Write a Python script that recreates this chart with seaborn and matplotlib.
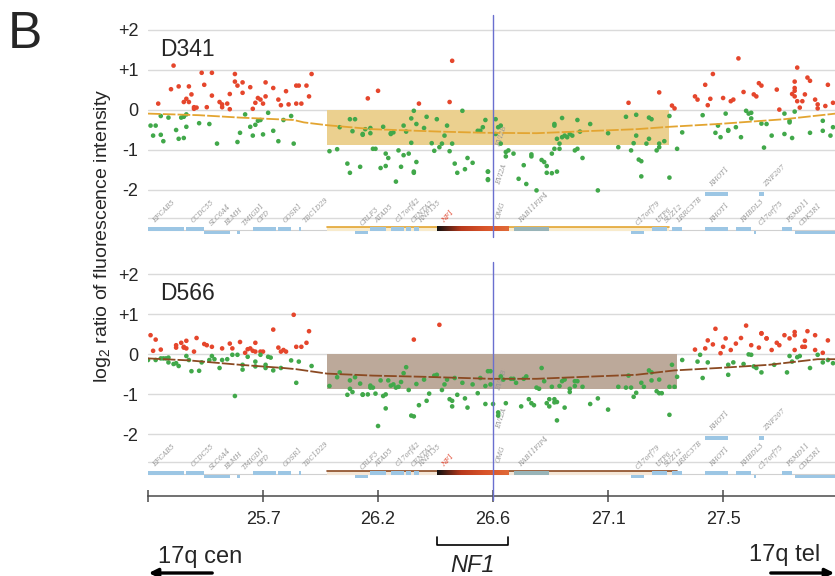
import numpy as np
import pandas as pd
import matplotlib
matplotlib.use("Agg")
import matplotlib.pyplot as plt
import matplotlib.transforms as mtransforms
from matplotlib.patches import Rectangle
from matplotlib.colors import LinearSegmentedColormap
import seaborn as sns

# probe position (Mb on 17q) and log2 ratio
D341_POINTS = [
    (25.35, 1.11), (25.29, 0.16), (25.34, 0.52), (25.37, 0.59), (25.41, 0.59), (25.42, 0.39),
    (25.40, 0.28), (25.39, 0.20), (25.41, 0.20), (25.43, 0.07), (25.43, 0.03), (25.44, 0.06),
    (25.46, 0.93), (25.50, 0.93), (25.47, 0.63), (25.48, 0.07), (25.50, 0.36), (25.53, 0.20),
    (25.54, 0.07), (25.54, 0.14), (25.56, 0.16), (25.57, 0.02), (25.57, 0.40), (25.59, 0.71),
    (25.59, 0.90), (25.60, 0.61), (25.62, 0.69), (25.62, 0.43), (25.65, 0.57), (25.66, 0.03),
    (25.67, 0.18), (25.68, 0.30), (25.69, 0.26), (25.70, 0.16), (25.71, 0.69), (25.71, 0.34),
    (25.74, 0.55), (25.76, 0.26), (25.77, 0.12), (25.79, 0.47), (25.80, 0.14), (25.83, 0.61),
    (25.84, 0.61), (25.83, 0.16), (25.85, 0.16), (25.87, 0.61), (25.88, 0.34), (25.89, 0.90),
    (26.11, 0.29), (26.15, 0.48), (26.31, 0.16), (26.44, 1.23), (26.43, 0.20),
    (25.26, -0.39), (25.28, -0.39), (25.27, -0.64), (25.30, -0.62), (25.31, -0.78), (25.30, -0.15),
    (25.33, -0.19), (25.36, -0.50), (25.37, -0.72), (25.38, -0.19), (25.39, -0.17), (25.39, -0.70),
    (25.40, -0.42), (25.40, -0.11), (25.45, -0.33), (25.49, -0.35), (25.52, -0.84), (25.60, -0.80),
    (25.61, -0.57), (25.63, -0.11), (25.65, -0.42), (25.66, -0.64), (25.67, -0.37), (25.68, -0.27),
    (25.69, -0.25), (25.70, -0.61), (25.72, -0.07), (25.74, -0.52), (25.76, -0.78), (25.78, -0.25),
    (25.81, -0.15), (25.82, -0.84), (25.96, -1.03), (25.99, -0.98), (26.00, -0.43), (26.03, -1.34),
    (26.04, -0.23), (26.04, -1.57), (26.06, -0.23), (26.05, -0.53), (26.08, -1.42), (26.09, -0.62),
    (26.09, -0.60), (26.10, -0.48), (26.12, -0.58), (26.12, -0.45), (26.13, -0.97), (26.14, -0.97),
    (26.16, -1.45), (26.17, -0.42), (26.18, -1.40), (26.18, -1.09), (26.19, -1.20), (26.20, -0.58),
    (26.20, -0.60), (26.21, -0.56), (26.22, -1.79), (26.23, -1.01), (26.24, -1.42), (26.25, -0.39),
    (26.25, -1.13), (26.26, -0.54), (26.27, -1.09), (26.28, -0.21), (26.28, -0.82), (26.29, -1.54),
    (26.29, -1.57), (26.30, -1.30), (26.29, -0.02), (26.30, -0.35), (26.34, -0.17), (26.33, -0.45),
    (26.36, -0.83), (26.37, -1.02), (26.38, -0.23), (26.39, -0.93), (26.40, -0.84), (26.41, -0.64),
    (26.42, -0.39), (26.43, -1.03), (26.44, -0.84), (26.45, -1.34), (26.46, -1.57), (26.48, -0.02),
    (26.49, -1.48), (26.50, -1.20), (26.52, -1.32), (26.54, -0.52), (26.55, -0.52), (26.57, -0.25),
    (26.56, -0.43), (26.58, -1.54), (26.58, -1.73),
    (26.61, -0.23), (26.61, -0.60), (26.62, -0.43), (26.63, -0.39), (26.63, -0.84), (26.65, -1.05),
    (26.66, -1.01), (26.68, -1.09), (26.65, -1.16), (26.58, -1.54), (26.58, -1.75), (26.72, -1.38),
    (26.70, -1.72), (26.73, -1.85), (26.75, -1.16), (26.75, -1.11), (26.77, -2.01), (26.79, -1.25),
    (26.80, -1.30), (26.81, -1.40), (26.81, -1.57), (26.83, -1.58), (26.85, -1.54), (26.83, -1.09),
    (26.84, -0.97), (26.86, -0.97), (26.86, -0.84), (26.85, -0.72), (26.87, -0.68), (26.88, -0.64),
    (26.89, -0.68), (26.90, -0.60), (26.91, -0.64), (26.84, -0.39), (26.84, -0.35), (26.87, -0.20),
    (26.92, -1.01), (26.93, -0.97), (26.95, -1.20), (26.94, -0.54), (26.93, -0.25), (26.98, -0.35),
    (27.01, -2.01), (27.05, -0.58), (27.09, -0.93), (27.12, -0.17), (27.14, -1.01), (27.15, -0.83),
    (27.16, -0.12), (27.16, -0.64), (27.17, -1.24), (27.18, -1.28), (27.18, -1.66), (27.20, -0.84),
    (27.21, -0.72), (27.21, -0.19), (27.22, -0.23), (27.24, -1.01), (27.25, -0.93), (27.25, -0.84),
    (27.27, -0.78), (27.29, -1.69), (27.29, -0.15), (27.32, -0.97), (27.34, -0.56), (27.42, -0.13),
    (27.47, -0.57), (27.48, -0.39), (27.49, -0.68), (27.51, -0.09), (27.52, -0.52), (27.52, -0.50),
    (27.55, -0.43), (27.57, -0.68), (27.59, -0.02), (27.60, -0.09), (27.61, -0.21), (27.61, -0.07),
    (27.65, -0.34), (27.66, -0.94), (27.67, -0.35), (27.69, -0.64), (27.74, -0.60), (27.74, -0.09),
    (27.76, -0.27), (27.76, -0.31), (27.77, -0.70), (27.78, -0.04), (27.84, -0.57), (27.89, -0.27),
    (27.89, -0.52), (27.92, -0.64), (27.93, -0.43),
    (27.13, 0.18), (27.25, 0.44), (27.30, 0.11), (27.31, 0.04), (27.39, 0.34), (27.40, 0.26),
    (27.43, 0.63), (27.44, 0.12), (27.45, 0.28), (27.46, 0.90), (27.50, 0.30), (27.53, 0.22),
    (27.54, 0.26), (27.56, 1.29), (27.58, 0.45), (27.62, 0.39), (27.63, 0.34), (27.64, 0.67),
    (27.65, 0.61), (27.71, 0.51), (27.72, 0.01), (27.77, 0.40), (27.78, 0.55), (27.78, 0.71),
    (27.78, 0.48), (27.78, 0.34), (27.79, 1.06), (27.79, 0.22), (27.81, 0.22), (27.80, 0.06),
    (27.82, 0.39), (27.83, 0.81), (27.84, 0.73), (27.86, 0.26), (27.87, 0.04), (27.87, 0.14),
    (27.90, 0.10), (27.91, 0.63), (27.93, 0.18),
]

D566_POINTS = [
    (25.26, 0.47), (25.28, 0.36), (25.27, 0.08), (25.30, 0.11), (25.36, 0.16), (25.36, 0.22),
    (25.38, 0.28), (25.39, 0.16), (25.39, 0.18), (25.40, 0.33), (25.40, 0.14), (25.43, 0.06),
    (25.44, 0.40), (25.47, 0.25), (25.48, 0.22), (25.50, 0.18), (25.54, 0.14), (25.57, 0.26),
    (25.58, 0.14), (25.61, 0.30), (25.63, 0.03), (25.64, 0.12), (25.65, 0.14), (25.66, 0.08),
    (25.67, 0.06), (25.67, 0.28), (25.69, 0.06), (25.70, 0.06), (25.74, 0.61), (25.76, 0.16),
    (25.77, 0.06), (25.78, 0.10), (25.79, 0.06), (25.82, 0.98), (25.83, 0.18), (25.85, 0.18),
    (25.87, 0.28), (25.88, 0.57), (26.29, 0.36), (26.39, 0.73),
    (25.25, -0.15), (25.28, -0.15), (25.30, -0.11), (25.31, -0.11), (25.32, -0.11), (25.33, -0.09),
    (25.33, -0.21), (25.35, -0.25), (25.36, -0.23), (25.37, -0.30), (25.40, -0.05), (25.41, -0.15),
    (25.42, -0.43), (25.45, -0.42), (25.46, -0.21), (25.49, -0.15), (25.50, -0.05), (25.51, -0.13),
    (25.53, -0.35), (25.54, -0.15), (25.56, -0.13), (25.58, -0.02), (25.59, -1.05), (25.60, -0.02),
    (25.62, -0.39), (25.62, -0.27), (25.64, -0.07), (25.67, -0.19), (25.67, -0.31), (25.69, -0.02),
    (25.71, -0.35), (25.71, -0.27), (25.72, -0.07), (25.73, -0.09), (25.74, -0.41), (25.77, -0.35),
    (25.81, -0.16), (25.83, -0.72), (25.84, -0.19), (25.89, -0.30), (25.96, -0.80), (25.99, -0.58),
    (26.00, -0.46), (26.03, -1.02), (26.04, -0.87), (26.04, -0.66), (26.06, -0.58), (26.05, -0.95),
    (26.08, -0.74), (26.09, -1.02), (26.09, -1.01), (26.11, -1.01), (26.12, -0.79), (26.12, -0.84),
    (26.13, -0.84), (26.14, -0.99), (26.16, -0.66), (26.17, -1.05), (26.18, -1.36), (26.18, -1.01),
    (26.19, -0.66), (26.20, -0.79), (26.21, -0.76), (26.22, -0.84), (26.23, -0.82), (26.24, -0.70),
    (26.25, -0.48), (26.26, -0.33), (26.27, -0.90), (26.28, -1.54), (26.29, -1.56), (26.30, -0.75),
    (26.31, -1.28), (26.33, -0.64), (26.34, -1.17), (26.35, -0.99), (26.37, -0.54), (26.38, -0.52),
    (26.40, -0.90), (26.41, -0.76), (26.42, -0.64), (26.43, -1.13), (26.44, -1.17), (26.44, -1.31),
    (26.45, -0.60), (26.46, -1.02), (26.48, -0.72), (26.49, -1.11), (26.50, -1.34), (26.52, -0.76),
    (26.54, -0.98), (26.55, -0.60), (26.57, -1.25), (26.57, -0.80), (26.58, -0.43), (26.15, -1.80),
    (26.59, -0.43), (26.59, -0.76), (26.60, -1.25), (26.62, -1.46), (26.62, -1.54), (26.63, -0.56),
    (26.64, -0.64), (26.65, -1.23), (26.67, -0.62), (26.68, -0.62), (26.69, -0.72), (26.71, -1.31),
    (26.72, -0.62), (26.73, -0.56), (26.74, -1.13), (26.75, -1.23), (26.76, -1.28), (26.77, -0.84),
    (26.78, -0.87), (26.79, -0.35), (26.80, -0.68), (26.81, -1.23), (26.82, -1.13), (26.82, -1.31),
    (26.83, -0.82), (26.84, -1.13), (26.84, -1.21), (26.85, -1.20), (26.85, -1.66), (26.86, -0.80),
    (26.87, -0.68), (26.88, -1.34), (26.88, -0.64), (26.90, -0.87), (26.90, -0.95), (26.92, -0.68),
    (26.92, -0.80), (26.93, -0.68), (26.95, -0.82), (26.98, -1.25), (27.01, -1.11), (27.05, -1.39),
    (27.09, -0.82), (27.12, -0.84), (27.13, -0.54), (27.14, -0.84), (27.15, -1.07), (27.16, -0.97),
    (27.18, -0.72), (27.19, -0.82), (27.21, -0.41), (27.22, -0.46), (27.22, -0.66), (27.24, -0.93),
    (27.25, -0.98), (27.26, -0.98), (27.25, -0.64), (27.29, -1.52), (27.29, -0.82), (27.30, -0.27),
    (27.31, -0.82), (27.32, -0.57), (27.34, -0.15), (27.40, -0.19), (27.41, -0.02), (27.42, -0.60),
    (27.44, -0.21), (27.52, -0.52), (27.52, -0.27), (27.54, -0.21), (27.58, -0.25), (27.60, -0.01),
    (27.61, -0.02), (27.62, -0.31), (27.63, -0.35), (27.65, -0.46), (27.70, -0.27), (27.75, -0.46),
    (27.76, -0.05), (27.77, -0.19), (27.79, -0.08), (27.80, -0.05), (27.84, -0.35), (27.87, -0.02),
    (27.89, -0.21), (27.91, -0.15), (27.93, -0.23),
    (27.39, 0.11), (27.43, 0.14), (27.44, 0.34), (27.47, 0.63), (27.46, 0.24), (27.49, 0.02),
    (27.50, 0.18), (27.51, 0.39), (27.53, 0.10), (27.55, 0.26), (27.57, 0.40), (27.59, 0.71),
    (27.61, 0.22), (27.64, 0.16), (27.65, 0.51), (27.65, 0.52), (27.67, 0.39), (27.67, 0.39),
    (27.69, 0.10), (27.71, 0.28), (27.72, 0.22), (27.74, 0.47), (27.76, 0.39), (27.78, 0.55),
    (27.78, 0.47), (27.78, 0.10), (27.81, 0.18), (27.82, 0.33), (27.82, 0.18), (27.83, 0.57),
    (27.86, 0.47), (27.86, 0.10), (27.89, 0.03), (27.91, 0.34),
]

# moving average lines
D341_TREND = [(25.25, -0.09), (25.45, -0.13), (25.61, -0.19), (25.82, -0.25), (25.86, -0.31),
              (25.95, -0.38), (26.13, -0.48), (26.39, -0.54), (26.57, -0.57), (26.77, -0.58),
              (26.96, -0.53), (27.16, -0.48), (27.29, -0.42), (27.48, -0.35), (27.74, -0.23),
              (27.94, -0.09)]
D566_TREND = [(25.25, -0.11), (25.41, -0.16), (25.61, -0.27), (25.78, -0.35), (25.83, -0.38),
              (25.95, -0.49), (26.13, -0.54), (26.33, -0.57), (26.59, -0.62), (26.77, -0.62),
              (26.96, -0.57), (27.16, -0.52), (27.31, -0.41), (27.48, -0.35), (27.68, -0.27),
              (27.87, -0.13), (27.94, -0.13)]

# deleted segment (start, end, depth)
D341_DELETION = (25.95, 27.29, -0.87)
D566_DELETION = (25.95, 27.32, -0.87)

# gene track: name, start, end, row (0 main, -1 offset, 1 upper)
GENE_NAMES = ["EFCAB5", "CCDC55", "SLC6A4", "BLMH", "TMIGD1", "CPD", "GOSR1", "TBC1D29",
              "CRLF3", "ATAD5", "C17orf42", "CENTA2", "RNF135", "NF1", "RAB11FIP4",
              "C17orf79", "UTP6", "SUZ12", "LRRC37B", "RHOT1", "RHOT1", "RHBDL3",
              "C17orf75", "ZNF207", "PSMD11", "CDK5R1"]
GENE_START = [25.25, 25.40, 25.47, 25.53, 25.60, 25.66, 25.76, 25.84,
              26.06, 26.12, 26.20, 26.26, 26.29, 26.38, 26.68,
              27.14, 27.22, 27.25, 27.30, 27.43, 27.43, 27.55,
              27.62, 27.64, 27.73, 27.78]
GENE_END = [25.39, 25.47, 25.53, 25.57, 25.61, 25.75, 25.81, 25.85,
            26.11, 26.18, 26.25, 26.28, 26.31, 26.66, 26.82,
            27.19, 27.25, 27.28, 27.34, 27.52, 27.52, 27.61,
            27.63, 27.66, 27.77, 27.94]
GENE_ROW = [0, 0, -1, -1, -1, 0, 0, 0,
            -1, 0, 0, 0, 0, 0, 0,
            -1, 0, 0, 0, 0, 1, 0,
            -1, 1, 0, -1]
NF1_INNER = ["EVI2B", "EVI2A", "OMG"]
NF1_INNER_Y = [-0.95, -1.9, -2.75]

XTICKS = [25.25, 25.7, 26.15, 26.6, 27.05, 27.5]
XTICKLABELS = ["", "25.7", "26.2", "26.6", "27.1", "27.5"]
YTICKS = [2, 1, 0, -1, -2]
YTICKLABELS = ["+2", "+1", "0", "-1", "-2"]

RED = "#e5462c"
GREEN = "#41a84a"
BAR_BLUE = "#9cc6e4"
NF1_POS = 26.6

sns.set_style("white")
plt.rcParams["font.family"] = ["Liberation Sans", "DejaVu Sans"]
plt.rcParams["mathtext.fontset"] = "custom"
plt.rcParams["mathtext.rm"] = "Liberation Sans"
plt.rcParams["mathtext.default"] = "regular"

W, H = 835, 576
fig = plt.figure(figsize=(W / 100, H / 100), dpi=100)
XMIN, XMAX = 25.25, 25.25 + 687 / 255.6

ax1 = fig.add_axes([148 / W, 1 - 242 / H, 687 / W, 230 / H])
ax2 = fig.add_axes([148 / W, 1 - 496 / H, 687 / W, 238 / H])

nf1_cmap = LinearSegmentedColormap.from_list("nf1", ["#111111", "#b8391c", "#d9542a", "#e06a38"])


def draw_panel(ax, points, trend, deletion, box_col, trend_col, band_col, name, ylim):
    for y in [2, 1, 0, -1, -2, -2.7]:
        ax.axhline(y, color="#dadada", lw=1, zorder=0)
    start, end, depth = deletion
    ax.add_patch(Rectangle((start, depth), end - start, -depth, color=box_col, lw=0, zorder=1))

    df = pd.DataFrame(points, columns=["pos", "ratio"])
    df["call"] = np.where(df["ratio"] > 0, "gain", "loss")
    sns.scatterplot(data=df, x="pos", y="ratio", hue="call", palette={"gain": RED, "loss": GREEN},
                    s=11, edgecolor="none", legend=False, ax=ax, zorder=3)

    tr = pd.DataFrame(trend, columns=["pos", "ratio"])
    sns.lineplot(data=tr, x="pos", y="ratio", color=trend_col, lw=1.3, ax=ax, zorder=4,
                 linestyle=(0, (7, 1.2)))

    # gene track
    ax.plot([XMIN, XMAX], [-3.0, -3.0], color="#d0d0d0", lw=0.8, zorder=1)
    ax.add_patch(Rectangle((start, -3.03), end - start, 0.1, color=band_col, lw=0, zorder=1))
    ax.plot([start, end], [-2.93, -2.93], color=trend_col, lw=1.2, zorder=2)
    for g, s, e, row in zip(GENE_NAMES, GENE_START, GENE_END, GENE_ROW):
        yc = {0: -2.98, -1: -3.06, 1: -2.1}[row]
        if g == "NF1":
            ax.imshow(np.linspace(0, 1, 200)[None, :], cmap=nf1_cmap, aspect="auto",
                      extent=[s, e, yc - 0.055, yc + 0.055], zorder=3)
            col = "#e0422a"
        else:
            fc = "#98b4b8" if g == "RAB11FIP4" else BAR_BLUE
            ax.add_patch(Rectangle((s, yc - 0.045), max(e - s, 0.006), 0.09, color=fc, lw=0, zorder=3))
            col = "#959595"
        ax.text(s + 0.012, yc + 0.13, g, rotation=45, fontsize=4.8, color=col, style="italic",
                family="DejaVu Serif", ha="left", va="bottom", zorder=2)
    for g, y in zip(NF1_INNER, NF1_INNER_Y):
        ax.text(NF1_POS + 0.004, y, g, rotation=72, fontsize=4.8, color="#959595", style="italic",
                family="DejaVu Serif", ha="left", va="bottom", zorder=2)

    ax.text(25.297, 1.52, name, fontsize=16.5, va="center", ha="left")
    ax.set_xlim(XMIN, XMAX)
    ax.set_ylim(*ylim)
    ax.set_yticks(YTICKS)
    ax.set_yticklabels(YTICKLABELS)
    ax.tick_params(axis="y", length=0, pad=7, labelsize=13)
    ax.set_xlabel("")
    ax.set_ylabel("")
    sns.despine(ax=ax, left=True, bottom=True)


draw_panel(ax1, D341_POINTS, D341_TREND, D341_DELETION, "#ebd08f", "#e3a531", "#f8ebcc",
           "D341", (-3.3, 2.45))
draw_panel(ax2, D566_POINTS, D566_TREND, D566_DELETION, "#bca99a", "#8b4a22", "#f4e6d6",
           "D566", (-3.55, 2.4))

ax1.plot([NF1_POS, NF1_POS], [-3.17, 2.38], color="#6a6fcf", lw=1, zorder=5)
ax2.plot([NF1_POS, NF1_POS], [-3.65, 2.3], color="#6a6fcf", lw=1, zorder=5, clip_on=False)

ax1.set_xticks([])
ax2.spines["bottom"].set_visible(True)
ax2.spines["bottom"].set_color("#4a4a4a")
ax2.spines["bottom"].set_linewidth(1.1)
ax2.set_xticks(XTICKS)
ax2.set_xticklabels(XTICKLABELS)
ax2.tick_params(axis="x", direction="inout", length=9, width=1.1, color="#4a4a4a",
                labelsize=13, pad=6, bottom=True)

fig.text(103 / W, 1 - 236 / H, "log$_2$ ratio of fluorescence intensity", rotation=90,
         fontsize=14, ha="center", va="center")
fig.text(8 / W, 1 - 35 / H, "B", fontsize=37, ha="left", va="center")

# NF1 bracket below the axis, spanning the NF1 gene
nf1_i = GENE_NAMES.index("NF1")
bt = mtransforms.blended_transform_factory(ax2.transData, fig.transFigure)
x0, x1 = GENE_START[nf1_i], GENE_END[nf1_i]
yb, yt = 1 - 545 / H, 1 - 537 / H
ax2.plot([x0, x0, x1, x1], [yt, yb, yb, yt], color="black", lw=1.2, transform=bt, clip_on=False)
fig.text(((x0 + x1) / 2 - XMIN) * 255.6 / W + 148 / W, 1 - 565 / H, "NF1", style="italic",
         fontsize=17, ha="center", va="center")

fig.text(158 / W, 1 - 557 / H, "17q cen", fontsize=17, ha="left", va="center")
fig.text(820 / W, 1 - 555 / H, "17q tel", fontsize=17, ha="right", va="center")
ap = dict(arrowstyle="-|>", color="black", lw=2.4, mutation_scale=13)
fig.add_artist(matplotlib.patches.FancyArrowPatch((215 / W, 1 - 573 / H), (146 / W, 1 - 573 / H),
                                                  transform=fig.transFigure, **ap))
fig.add_artist(matplotlib.patches.FancyArrowPatch((768 / W, 1 - 573 / H), (837 / W, 1 - 573 / H),
                                                  transform=fig.transFigure, **ap))

fig.savefig("out.png", dpi=100)
